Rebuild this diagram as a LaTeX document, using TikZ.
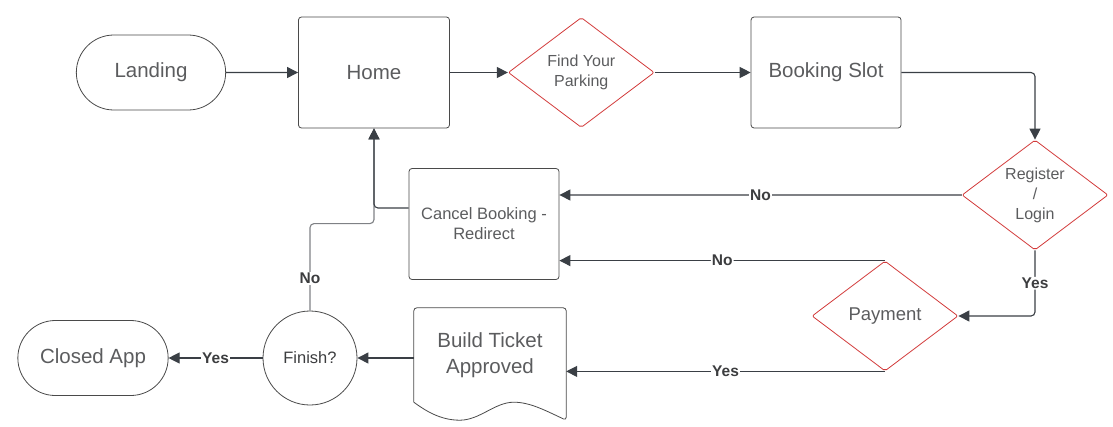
\documentclass[tikz,border=0pt]{standalone}
\usepackage{fontspec}
\setmainfont{Liberation Sans}
\usetikzlibrary{shapes.geometric, shapes.misc, arrows.meta, calc, positioning}

\definecolor{linegray}{HTML}{3A3F45}
\definecolor{lightline}{HTML}{7F8185}
\definecolor{textgray}{HTML}{5B5C5E}
\definecolor{labelgray}{HTML}{3C3D3F}
\definecolor{boxgray}{HTML}{4A4A4A}
\definecolor{decred}{HTML}{D23A3A}

\begin{document}
\begin{tikzpicture}[x=1pt,y=-1pt,>={Triangle[length=11pt,width=11pt,color=linegray]},
	every node/.style={text=textgray},
	terminal/.style={rounded rectangle, draw=boxgray, line width=0.8pt, minimum width=156pt, minimum height=75pt, font=\fontsize{20.5}{25}\selectfont},
	box/.style={rectangle, draw=boxgray, line width=0.8pt, rounded corners=3pt, minimum width=151pt, minimum height=111pt, align=center, font=\fontsize{20.5}{25}\selectfont},
	decision/.style={diamond, draw=decred, line width=0.8pt, rounded corners=2pt, aspect=1.33, inner sep=0pt, minimum width=146pt, minimum height=110pt, align=center, font=\fontsize{16}{20}\selectfont},
	flow/.style={->, draw=linegray, line width=1.1pt, rounded corners=4pt},
	lbl/.style={fill=white, inner sep=1pt, text=labelgray, font=\bfseries\fontsize{15.5}{18}\selectfont}]
	\useasboundingbox (0,0) rectangle (1113,426);

	% top row
	\node[terminal] (landing) at (151,72.5) {Landing};
	\node[box] (home) [right=72pt of landing] {Home};
	\node[decision] (find) [right=58pt of home] {Find Your\\Parking};
	\node[box, minimum width=150pt] (booking) [right=96pt of find] {Booking Slot};

	% right side
	\node[decision] (register) at (1035,195) {Register\\/\\Login};
	\node[decision, font=\fontsize{18.5}{22}\selectfont] (payment) at (885,316) {Payment};
	\node[box, minimum width=150pt, font=\fontsize{16.5}{20}\selectfont] (cancel) at (484,224) {Cancel Booking -\\Redirect};

	% bottom row
	\node[rectangle, minimum width=152pt, minimum height=94pt, align=center, font=\fontsize{20.5}{26}\selectfont] (build) at (490,355) {Build Ticket\\Approved};
	\node[circle, draw=boxgray, line width=0.8pt, minimum size=94pt, inner sep=0pt, text=labelgray, font=\fontsize{16.5}{20}\selectfont] (finish) at (310,358) {Finish?};
	\node[terminal, minimum width=157pt] (closed) at (93,358) {Closed App};

	% document outline
	\draw[boxgray, line width=0.8pt] (build.south west) [rounded corners=3pt] -- (build.north west) -- (build.north east) -- ($(build.south east)+(0,18)$) [sharp corners]
		.. controls ($(build.south west)+(131,8)$) and ($(build.south west)+(116,0)$) .. ($(build.south west)+(100,0)$)
		.. controls ($(build.south west)+(81,0)$) and ($(build.south west)+(66,18)$) .. ($(build.south west)+(46,18)$)
		.. controls ($(build.south west)+(26,18)$) and ($(build.south west)+(11,8)$) .. (build.south west);

	% connectors
	\draw[flow] (landing) -- (home);
	\draw[flow] (home) -- (find);
	\draw[flow] (find) -- (booking);
	\draw[flow] (booking.east) -| (register.north);
	\draw[flow, draw=lightline] (register.west) -- node[lbl] {No} (register.west -| cancel.east);
	\draw[flow] (register.south) |- node[lbl, pos=0.25] {Yes} (payment.east);
	\draw[flow] (payment.north) -- node[lbl] {No} (payment.north -| cancel.east);
	\draw[flow] (payment.south) -- node[lbl] {Yes} (payment.south -| build.east);
	\draw[flow] (finish.east -| build.west) -- (finish.east);
	\draw[flow] (finish.west) -- node[lbl] {Yes} (finish.west -| closed.east);
	\draw[flow, draw=lightline] (finish.north) -- node[lbl, pos=0.37] {No} ++(0,-87) -| (home.south);
	\draw[flow] ([yshift=16pt]cancel.west) -| (home.south);
\end{tikzpicture}
\end{document}
